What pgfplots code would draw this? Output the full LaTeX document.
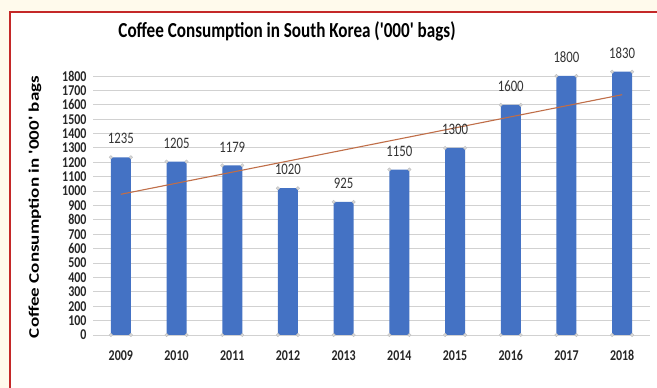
\documentclass[border=0pt]{standalone}
\usepackage{pgfplots}
\pgfplotsset{compat=1.18}
\usepackage{fontspec}
\setmainfont{Carlito}
\newfontfamily\narrow[FakeStretch=0.8]{Carlito}
\newfontfamily\wide[FakeStretch=1.3]{Carlito}
\definecolor{cream}{RGB}{255,250,236}
\definecolor{bord}{RGB}{196,40,40}
\definecolor{barblue}{RGB}{68,114,196}
\definecolor{trend}{RGB}{192,110,72}
\begin{document}
\begin{tikzpicture}
\useasboundingbox (0,0) rectangle (657bp,388bp);
\clip (0,0) rectangle (657bp,388bp);
\fill[cream] (0,0) rectangle (657bp,388bp);
\filldraw[fill=white, draw=bord, line width=1.8bp] (10bp,-10bp) rectangle (690bp,376bp);
\begin{axis}[at={(93bp,53bp)}, anchor=south west, scale only axis,
  width=557bp, height=259bp,
  xmin=-0.5, xmax=9.5, ymin=0, ymax=1800,
  ytick={0,100,...,1800},
  xtick={0,1,2,3,4,5,6,7,8,9},
  xticklabels={2009,2010,2011,2012,2013,2014,2015,2016,2017,2018},
  ymajorgrids, grid style={black!18, line width=0.9bp},
  axis line style={draw=none}, major tick length=0pt,
  /pgf/number format/1000 sep={},
  /pgf/number format/assume math mode=true,
  yticklabel style={font=\narrow\bfseries\fontsize{15}{15}\selectfont, text=black!85, xshift=-3bp},
  xticklabel style={font=\narrow\bfseries\fontsize{15}{15}\selectfont, text=black!85, yshift=-12bp},
  clip=false,
]
\addplot[ybar, bar width=20bp, fill=barblue, draw=none,
  nodes near coords,
  every node near coord/.append style={font=\narrow\fontsize{16}{16}\selectfont, text=black!80, inner sep=0pt, anchor=south, yshift=13bp}]
  coordinates {(0,1235) (1,1205) (2,1179) (3,1020) (4,925) (5,1150) (6,1300) (7,1600) (8,1800) (9,1830)};
\addplot[trend, line width=1.1bp] coordinates {(0,978) (9,1670)};
\addplot[only marks, mark=*, mark size=1.7bp, mark options={fill=gray!30, draw=gray!50}, xshift=-10bp]
  coordinates {(0,1235) (1,1205) (2,1179) (3,1020) (4,925) (5,1150) (6,1300) (7,1600) (8,1800) (9,1830)};
\addplot[only marks, mark=*, mark size=1.7bp, mark options={fill=gray!30, draw=gray!50}, xshift=10bp]
  coordinates {(0,1235) (1,1205) (2,1179) (3,1020) (4,925) (5,1150) (6,1300) (7,1600) (8,1800) (9,1830)};
\addplot[only marks, mark=*, mark size=1.7bp, mark options={fill=gray!30, draw=gray!50}, xshift=-10bp]
  coordinates {(0,0) (1,0) (2,0) (3,0) (4,0) (5,0) (6,0) (7,0) (8,0) (9,0)};
\addplot[only marks, mark=*, mark size=1.7bp, mark options={fill=gray!30, draw=gray!50}, xshift=10bp]
  coordinates {(0,0) (1,0) (2,0) (3,0) (4,0) (5,0) (6,0) (7,0) (8,0) (9,0)};
\end{axis}
\node[rotate=90] at (35bp,181bp) {\resizebox{262bp}{!}{\wide\bfseries Coffee Consumption in '000' bags}};
\node at (287bp,357bp) {\resizebox{337bp}{!}{\narrow\bfseries Coffee Consumption in South Korea ('000' bags)}};
\end{tikzpicture}
\end{document}
